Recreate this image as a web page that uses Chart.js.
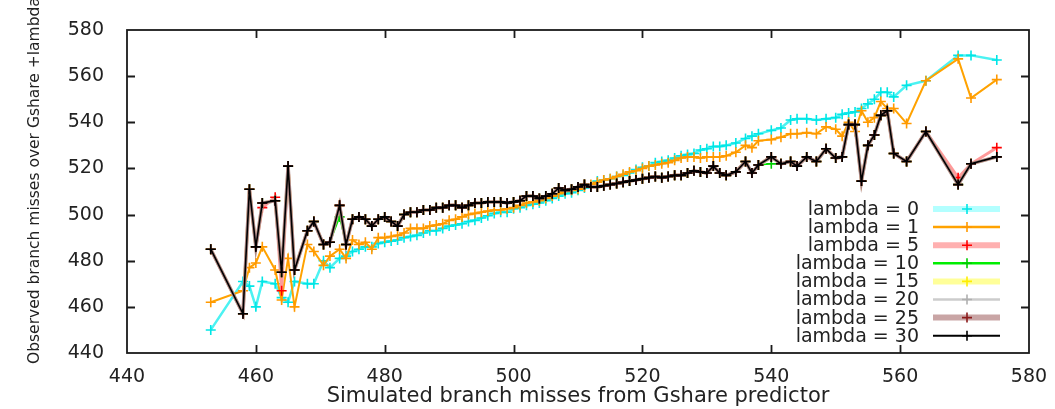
<!DOCTYPE html>
<html><head><meta charset="utf-8">
<script src="https://cdn.jsdelivr.net/npm/chart.js@4.4.1/dist/chart.umd.min.js"></script>
<style>html,body{margin:0;padding:0;background:#fff;}#wrap{width:1055px;height:409px;position:relative;}</style>
</head><body><div id="wrap"><canvas id="c"></canvas></div>
<script>
const gshareMisses = [453,458,459,460,461,463,464,465,466,468,
469,470.5,471.5,473,474,475,476,477,478,479,
480,481,482,483,484,485,486,487,488,489,
490,491,492,493,494,495,496,497,498,499,
500,501,502,503,504,505,506,507,508,509,
510,511,512,513,514,515,516,517,518,519,
520,521,522,523,524,525,526,527,528,529,
530,531,532,533,534.5,536,537,538,540,541.5,
543,544,545.5,547,548.5,550,551,552,553,554,
555,556,557,558,559,561,564,569,571,575];

const lambda0 = [450,471,469,460,471,470,464,462,471,470,
470,480,477,481,482,484,485,486,486,487.5,
488,488.5,489,490,490.5,491,492,493,493,494,
495,495.5,496,497,497.5,498.5,499.5,500.5,501,501,
502.5,503,504,504.5,505,506,507,508,509,509.5,
510.5,511.5,512.5,514.5,515,515.5,516.5,517,518,519.5,
520.5,521,522.5,523,523.5,524.5,525.5,526,526.5,528,
528.5,529.5,529.5,530,531,533,534,535,536.5,537.5,
541,541.5,541.5,541,541.5,542,543.5,544,544.5,546,
548,550,553,553,551,556,558,569,569,567];

const lambda1 = [462,467,477,479,486,476,463,481,460,487,
484,478,482,485,481,489,487,488,485,490,
490,490.5,491,492,494,494,494,495,495.5,496,
497.5,498,499,500,500.5,501,501.5,502,502,502.5,
503,504,505,505.5,506,507,508,509,510,510.5,
511,512,513,514,515,515.5,516.5,517.5,518.5,519,
520,521,521.5,522,522.5,523.5,524.5,525,525,524.5,
525,525,525,525.5,527,530,529,532,532.5,533.5,
535,535,535.5,535,538,537,534,540,536,545,
540,542,549,546,546,539.5,558,567.5,550.5,558.5];

const lambda5 = [485,457,511,486,503,507.5,467,521,476,493,
497,487,488,504,487,498,499,498,495,498,
499,497,495,500,501,501,502,502,503,503,
504,504,503,504,505,505,505.5,505.5,505.5,505,
505.5,506,508,508,507,508,509,511.5,510.5,511,
512,513,512,512,512.5,513,513.5,514,514.5,515,
515.5,516,516.5,516,516.5,517,517,518,519,518.5,
518,521,518,517,518.5,523,518,521.5,525,522,
523,521,525,523,528.5,524.5,525,539,539,514.5,
530,534.5,543,545,526.5,523,536,516,522,529];

const lambda10 = [485,457,511,486,505,506,475,521,476,493,
497,487,488,499,487,498,499,498,495,498,
499,497,495,500,501,501,502,502,503,503,
504,504,503,504,505,505,505.5,505.5,505.5,505,
505.5,506,508,508,507,508,509,511.5,510.5,511,
512,513,512,512,512.5,513,513.5,514,514.5,515,
515.5,516,516.5,516,516.5,517,517,518,519,518.5,
518,521,518,517,518.5,523,518,521.5,522,522,
523,521,525,523,528.5,524.5,525,539,539,514.5,
530,534.5,543,545,526.5,523,536,513,522,525];

const lambda15 = [485,457,511,486,505,506,475,521,476,493,
497,487,488,504,487,498,499,498,495,498,
499,497,495,500,501,501,502,502,503,503,
504,504,503,504,505,505,505.5,505.5,505.5,505,
505.5,506,508,508,507,508,509,511.5,510.5,511,
512,513,512,512,512.5,513,513.5,514,514.5,515,
515.5,516,516.5,516,516.5,517,517,518,519,518.5,
518,521,518,517,518.5,523,518,521.5,525,522,
523,521,525,523,528.5,524.5,525,539,539,514.5,
530,534.5,543,545,526.5,523,536,513,522,525];

const lambda20 = [485,457,511,486,505,506,475,521,476,493,
497,487,488,504,487,498,499,498,495,498,
499,497,495,500,501,501,502,502,503,503,
504,504,503,504,505,505,505.5,505.5,505.5,505,
505.5,506,508,508,507,508,509,511.5,510.5,511,
512,513,512,512,512.5,513,513.5,514,514.5,515,
515.5,516,516.5,516,516.5,517,517,518,519,518.5,
518,521,518,517,518.5,523,518,521.5,525,522,
523,521,525,523,528.5,524.5,525,539,539,514.5,
530,534.5,543,545,526.5,523,536,513,522,525];

const lambda25 = [485,457,511,486,505,506,475,521,476,493,
497,487,488,504,487,498,499,498,495,498,
499,497,495,500,501,501,502,502,503,503,
504,504,503,504,505,505,505.5,505.5,505.5,505,
505.5,506,508,508,507,508,509,511.5,510.5,511,
512,513,512,512,512.5,513,513.5,514,514.5,515,
515.5,516,516.5,516,516.5,517,517,518,519,518.5,
518,521,518,517,518.5,523,518,521.5,525,522,
523,521,525,523,528.5,524.5,525,539,539,514.5,
530,534.5,543,545,526.5,523,536,513,522,525];

const lambda30 = [485,457,511,486,505,506,475,521,476,493,
497,487,488,504,487,498,499,498,495,498,
499,497,495,500,501,501,502,502,503,503,
504,504,503,504,505,505,505.5,505.5,505.5,505,
505.5,506,508,508,507,508,509,511.5,510.5,511,
512,513,512,512,512.5,513,513.5,514,514.5,515,
515.5,516,516.5,516,516.5,517,517,518,519,518.5,
518,521,518,517,518.5,523,518,521.5,525,522,
523,521,525,523,528.5,524.5,525,539,539,514.5,
530,534.5,543,545,526.5,523,536,513,522,525];

const seriesLabels = ['lambda = 0','lambda = 1','lambda = 5','lambda = 10','lambda = 15','lambda = 20','lambda = 25','lambda = 30'];
const seriesValues = [lambda0, lambda1, lambda5, lambda10, lambda15, lambda20, lambda25, lambda30];
const xTitle = 'Simulated branch misses from Gshare predictor';
const yTitle = 'Observed branch misses over Gshare +lambda';

const styles = [
  {line:'#4cf2f2', point:'#00e6e6', w:2.5, lw:6, lc:'#b3ffff'},
  {line:'#ffa200', point:'#ff9900', w:2,   lw:2.5, lc:'#ffa200'},
  {line:'#ff9a9a', point:'#ff0000', w:3,   lw:6, lc:'#ffb0b0'},
  {line:'#00ee00', point:'#00cc00', w:1.5, lw:2.5, lc:'#00ee00'},
  {line:'#ffff80', point:'#ffee00', w:3,   lw:6, lc:'#ffff99'},
  {line:'#c8c8c8', point:'#b0b0b0', w:1.5, lw:2.5, lc:'#cccccc'},
  {line:'#b08a8a', point:'#8b1a1a', w:3.5, lw:6, lc:'#c9a5a5'},
  {line:'#000000', point:'#000000', w:1.6, lw:2, lc:'#000000'}
];

const datasets = seriesValues.map((vals, i) => ({
  label: seriesLabels[i],
  data: gshareMisses.map((x, j) => ({x: x, y: vals[j]})),
  borderColor: styles[i].line,
  borderWidth: styles[i].w,
  pointStyle: 'cross',
  pointRadius: 5,
  pointBorderWidth: 1.6,
  pointBorderColor: styles[i].point,
  pointBackgroundColor: styles[i].point,
  fill: false,
  tension: 0,
  order: 7 - i
}));

const TXT = '#222';
const FONT = 'DejaVu Sans';

const framePlugin = {
  id: 'frame',
  afterDatasetsDraw(chart) {
    const {ctx, chartArea: a, scales} = chart;
    ctx.save();
    ctx.strokeStyle = '#1a1a1a';
    ctx.lineWidth = 1.8;
    ctx.strokeRect(a.left, a.top, a.right - a.left, a.bottom - a.top);
    const tl = 8;
    ctx.beginPath();
    scales.x.ticks.forEach(t => {
      const px = Math.round(scales.x.getPixelForValue(t.value)) + 0.5;
      if (px <= a.left + 1 || px >= a.right - 1) return;
      ctx.moveTo(px, a.bottom); ctx.lineTo(px, a.bottom - tl);
      ctx.moveTo(px, a.top); ctx.lineTo(px, a.top + tl);
    });
    scales.y.ticks.forEach(t => {
      const py = Math.round(scales.y.getPixelForValue(t.value)) + 0.5;
      if (py <= a.top + 1 || py >= a.bottom - 1) return;
      ctx.moveTo(a.left, py); ctx.lineTo(a.left + tl, py);
      ctx.moveTo(a.right, py); ctx.lineTo(a.right - tl, py);
    });
    ctx.stroke();
    ctx.restore();
  },
  afterDraw(chart) {
    const {ctx} = chart;
    ctx.save();
    // y-axis title (rotated), positioned as in the reference
    ctx.save();
    ctx.font = '15.5px "' + FONT + '"';
    ctx.fillStyle = TXT;
    ctx.textAlign = 'left';
    ctx.textBaseline = 'alphabetic';
    ctx.translate(39, 364);
    ctx.rotate(-Math.PI / 2);
    ctx.fillText(yTitle, 0, 0);
    ctx.restore();
    // legend
    ctx.font = '19px "' + FONT + '"';
    ctx.textAlign = 'right';
    ctx.textBaseline = 'middle';
    const x0 = 919, ls = 933, le = 1000, mx = 967;
    chart.data.datasets.forEach((ds, i) => {
      const y = 209 + i * 18.1;
      ctx.fillStyle = TXT;
      ctx.fillText(ds.label, x0, y + 1);
      ctx.strokeStyle = styles[i].lc;
      ctx.lineWidth = styles[i].lw;
      ctx.beginPath(); ctx.moveTo(ls, y); ctx.lineTo(le, y); ctx.stroke();
      ctx.strokeStyle = styles[i].point;
      ctx.lineWidth = 1.6;
      ctx.beginPath(); ctx.moveTo(mx - 5, y); ctx.lineTo(mx + 5, y); ctx.moveTo(mx, y - 5); ctx.lineTo(mx, y + 5); ctx.stroke();
    });
    ctx.restore();
  }
};

new Chart(document.getElementById('c'), {
  type: 'line',
  data: {datasets: datasets},
  options: {
    responsive: true,
    maintainAspectRatio: false,
    animation: false,
    layout: {padding: {top: 30, right: 26, left: 0, bottom: 0}},
    plugins: {legend: {display: false}, tooltip: {enabled: false}},
    scales: {
      x: {
        type: 'linear', min: 440, max: 580,
        ticks: {stepSize: 20, color: TXT, font: {family: FONT, size: 19}, padding: 5, maxRotation: 0},
        grid: {display: false}, border: {display: false},
        title: {display: true, text: xTitle, color: TXT, font: {family: FONT, size: 21}, padding: {top: 0, bottom: 0}},
        afterFit: s => { s.height = 56; }
      },
      y: {
        type: 'linear', min: 440, max: 580,
        ticks: {stepSize: 20, color: TXT, font: {family: FONT, size: 19}, padding: 15},
        grid: {display: false}, border: {display: false},
        title: {display: false},
        afterFit: s => { s.width = 127; }
      }
    }
  },
  plugins: [framePlugin]
});
</script></body></html>
